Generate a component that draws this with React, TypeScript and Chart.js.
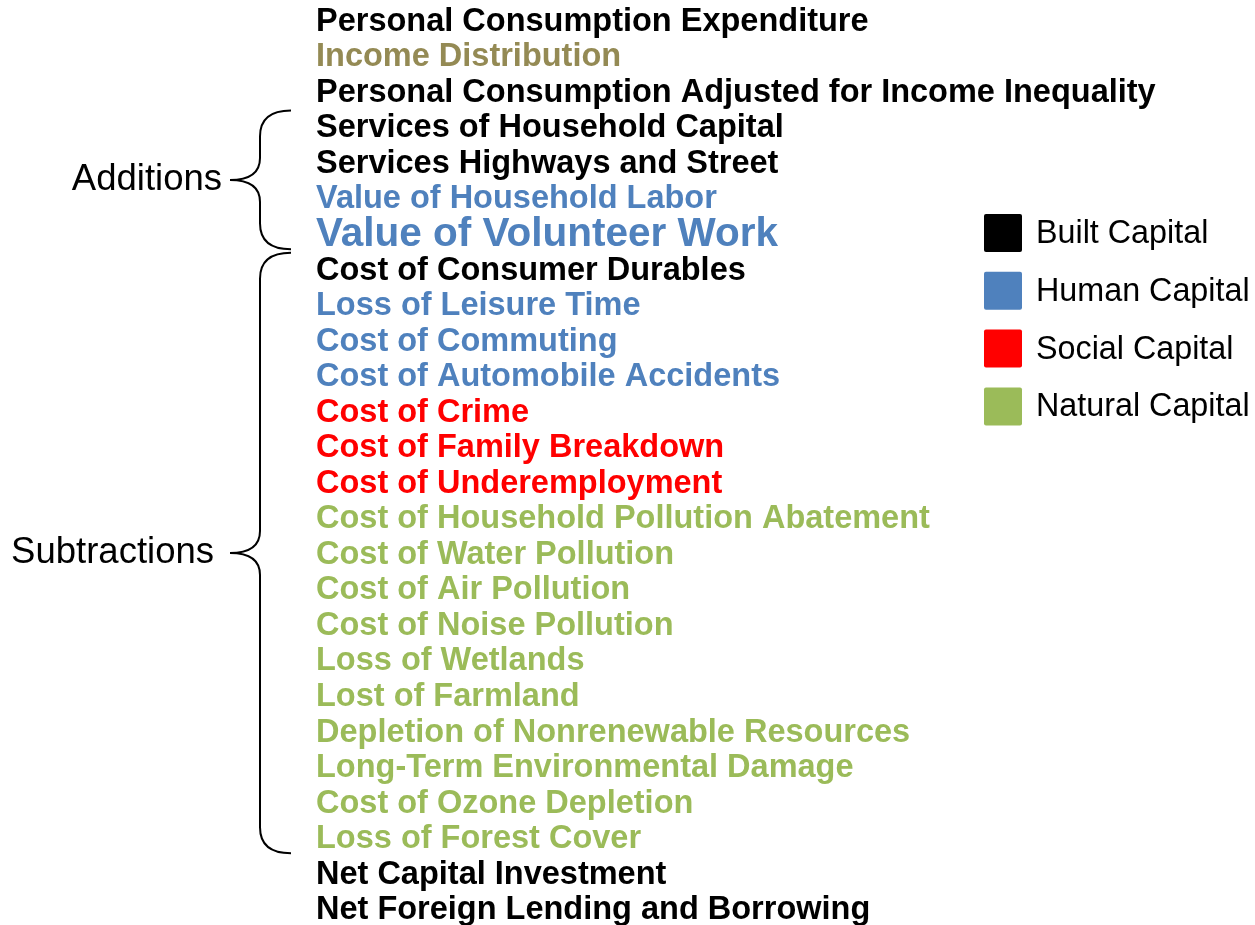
import React, { useEffect, useRef } from 'react';
import { Chart, registerables } from 'chart.js';

Chart.register(...registerables);

// ---- data ----
const items = [
  'Personal Consumption Expenditure',
  'Income Distribution',
  'Personal Consumption Adjusted for Income Inequality',
  'Services of Household Capital',
  'Services Highways and Street',
  'Value of Household Labor',
  'Value of Volunteer Work',
  'Cost of Consumer Durables',
  'Loss of Leisure Time',
  'Cost of Commuting',
  'Cost of Automobile Accidents',
  'Cost of Crime',
  'Cost of Family Breakdown',
  'Cost of Underemployment',
  'Cost of Household Pollution Abatement',
  'Cost of Water Pollution',
  'Cost of Air Pollution',
  'Cost of Noise Pollution',
  'Loss of Wetlands',
  'Lost of Farmland',
  'Depletion of Nonrenewable Resources',
  'Long-Term Environmental Damage',
  'Cost of Ozone Depletion',
  'Loss of Forest Cover',
  'Net Capital Investment',
  'Net Foreign Lending and Borrowing',
];

const itemCapital = [
  'built', 'income', 'built', 'built', 'built', 'human', 'human',
  'built', 'human', 'human', 'human', 'social', 'social', 'social',
  'natural', 'natural', 'natural', 'natural', 'natural', 'natural',
  'natural', 'natural', 'natural', 'natural', 'built', 'built',
];

const emphasizedItems = ['Value of Volunteer Work'];

const capitalKeys = ['built', 'human', 'social', 'natural'];
const capitalNames = ['Built Capital', 'Human Capital', 'Social Capital', 'Natural Capital'];
const capitalColors = ['#000000', '#4F81BD', '#FF0000', '#9BBB59'];
const incomeColor = '#948A54';

const bracketNames = ['Additions', 'Subtractions'];
const bracketFirst = [3, 7];
const bracketLast = [6, 23];

const FONT = '"Liberation Sans", Arial, Helvetica, sans-serif';

function colorFor(index: number): string {
  const key = itemCapital[index];
  const k = capitalKeys.indexOf(key);
  return k >= 0 ? capitalColors[k] : incomeColor;
}

const bracePlugin = {
  id: 'braces',
  afterDraw(chart: any) {
    const y = chart.scales.y;
    const ctx = chart.ctx;
    const step = y.getPixelForValue(1) - y.getPixelForValue(0);
    const xr = 291;
    const xm = 260;
    const xl = 230;
    const labelGaps = [8, 16];
    ctx.save();
    ctx.strokeStyle = '#000';
    ctx.lineWidth = 2;
    bracketNames.forEach((name, i) => {
      const top = y.getPixelForValue(bracketFirst[i]) - step * 0.5;
      const bottom = y.getPixelForValue(bracketLast[i]) + step * 0.4;
      const mid = (top + bottom) / 2;
      const r = 26;
      const rm = 22;
      ctx.beginPath();
      ctx.moveTo(xr, top);
      ctx.quadraticCurveTo(xm, top, xm, top + r);
      ctx.lineTo(xm, mid - rm);
      ctx.quadraticCurveTo(xm, mid, xl, mid);
      ctx.quadraticCurveTo(xm, mid, xm, mid + rm);
      ctx.lineTo(xm, bottom - r);
      ctx.quadraticCurveTo(xm, bottom, xr, bottom);
      ctx.stroke();
      ctx.fillStyle = '#000';
      ctx.font = `36.5px ${FONT}`;
      ctx.textAlign = 'right';
      ctx.textBaseline = 'middle';
      ctx.fillText(name, xl - labelGaps[i], mid);
    });
    ctx.restore();
  },
};

const legendPlugin = {
  id: 'capitalLegend',
  afterDraw(chart: any) {
    const ctx = chart.ctx;
    const x = 984;
    const top0 = 214;
    const gap = 57.8;
    const size = 38;
    ctx.save();
    chart.data.datasets.forEach((ds: any, i: number) => {
      const top = top0 + i * gap;
      ctx.fillStyle = ds.backgroundColor;
      ctx.beginPath();
      if (ctx.roundRect) ctx.roundRect(x, top, size, size, 2);
      else ctx.rect(x, top, size, size);
      ctx.fill();
      ctx.fillStyle = '#000';
      ctx.font = `32.3px ${FONT}`;
      ctx.textAlign = 'left';
      ctx.textBaseline = 'middle';
      ctx.fillText(ds.label, 1036, top + size / 2 + 1);
    });
    ctx.restore();
  },
};

export default function App() {
  const canvasRef = useRef<HTMLCanvasElement | null>(null);

  useEffect(() => {
    document.body.style.margin = '0';
    document.body.style.overflow = 'hidden';
    document.documentElement.style.overflow = 'hidden';
    const canvas = canvasRef.current;
    if (!canvas) return;
    const chart = new Chart(canvas, {
      type: 'bar',
      data: {
        labels: items,
        datasets: capitalNames.map((name, i) => ({
          label: name,
          data: [],
          backgroundColor: capitalColors[i],
        })),
      },
      options: {
        indexAxis: 'y',
        animation: false,
        responsive: true,
        maintainAspectRatio: false,
        layout: { padding: { top: 4, bottom: 0, left: 0, right: 0 } },
        plugins: {
          legend: { display: false },
          tooltip: { enabled: false },
        },
        scales: {
          x: { type: 'linear', display: false, min: 0, max: 1 },
          y: {
            type: 'category',
            position: 'right',
            offset: true,
            grid: { display: false, drawTicks: false },
            border: { display: false },
            afterFit: (scale: any) => {
              scale.width = 1255 - 316;
              scale.paddingTop = 0;
              scale.paddingBottom = 0;
            },
            ticks: {
              autoSkip: false,
              padding: 0,
              crossAlign: 'near',
              color: (ctx: any) => colorFor(ctx.index),
              font: (ctx: any) => ({
                family: FONT,
                weight: 'bold',
                size: emphasizedItems.includes(items[ctx.index]) ? 40.5 : 32.5,
              }),
            },
          },
        },
      },
      plugins: [bracePlugin, legendPlugin],
    });
    return () => chart.destroy();
  }, []);

  return (
    <div style={{ width: 1255, height: 928, position: 'relative' }}>
      <canvas ref={canvasRef} />
    </div>
  );
}
